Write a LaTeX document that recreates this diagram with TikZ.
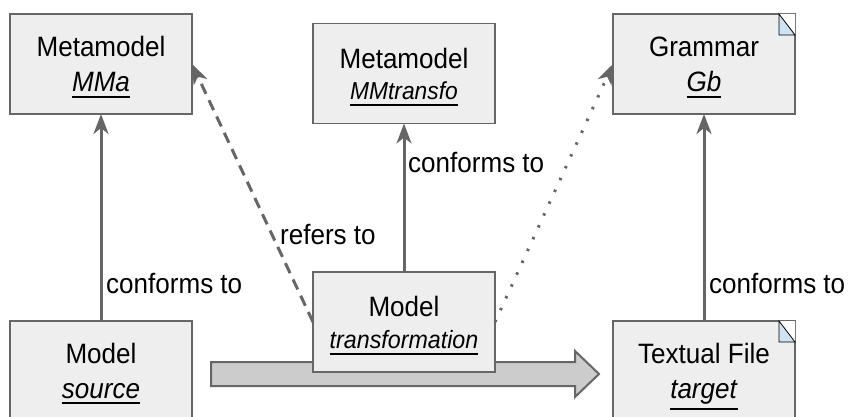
\documentclass[tikz,border=0pt]{standalone}
\usepackage{fontspec}
\setmainfont[FakeStretch=0.93]{Liberation Sans}
\usetikzlibrary{arrows.meta}
\definecolor{linegray}{HTML}{666666}
\definecolor{boxfill}{HTML}{EEEEEE}
\definecolor{arrowfill}{HTML}{CCCCCC}
\definecolor{notefill}{HTML}{CFE2F3}
\newcommand\myul[1]{\setbox0=\hbox{#1}\leavevmode\rlap{\rule[\dimexpr-\dp0-5.9pt\relax]{\wd0}{1.8pt}}\box0}
\begin{document}
\begin{tikzpicture}[x=1pt,y=-1pt,
  box/.style={draw=linegray, line width=1.2pt, fill=boxfill, minimum width=182pt, minimum height=100pt, inner sep=0pt, outer sep=0pt},
  txt/.style={anchor=base, inner sep=0pt, font=\fontsize{28}{32}\selectfont},
  lbl/.style={anchor=base west, inner sep=0pt, font=\fontsize{28}{32}\selectfont},
  tip/.style={-{Stealth[length=20pt,width=15pt,inset=6pt]}},
  conf/.style={draw=linegray, line width=3pt, tip},
  refer/.style={draw=linegray, line width=3pt, dash pattern=on 11pt off 7pt, tip},
  dots/.style={draw=linegray, line width=3pt, dash pattern=on 2.5pt off 10.5pt, tip},
  bigarrow/.style={draw=linegray, line width=2pt, fill=arrowfill, line join=miter},
  notecorner/.style={draw=black, line width=0.8pt, fill=notefill}
]
\clip (0,0) rectangle (851,417);
\fill[white] (0,0) rectangle (851,417);

% big transformation arrow
\draw[bigarrow] (211,362) -- (575,362) -- (575,351) -- (599,374) -- (575,397) -- (575,386) -- (211,386) -- cycle;

% boxes
\node[box] (MMa) at (101,64) {};
\node[box] (MMt) at (404,73.5) {};
\node[box] (Gb) at (704,64) {};
\node[box] (src) at (101,371) {};
\node[box] (trf) at (404,322) {};
\node[box] (tgt) at (704,371) {};

% note corners
\fill[white] (779,14) -- (795,14) -- (795,35) -- cycle;
\draw[notecorner] (779,14) -- (779,35) -- (795,35) -- cycle;
\fill[white] (779,321) -- (795,321) -- (795,342) -- cycle;
\draw[notecorner] (779,321) -- (779,342) -- (795,342) -- cycle;

% texts
\node[txt] (MMa1) at (101,57) {Metamodel};
\node[txt] (MMa2) at (101,92) {\myul{\textit{MMa}}};
\node[txt] (MMt1) at (404,68.5) {Metamodel};
\node[txt, font=\fontsize{24.5}{28}\selectfont] (MMt2) at (404,100) {\myul{\textit{MMtransfo}}};
\node[txt] (Gb1) at (704,57) {Grammar};
\node[txt] (Gb2) at (704,92) {\myul{\textit{Gb}}};
\node[txt] (src1) at (101,363.5) {Model};
\node[txt] (src2) at (101,398) {\myul{\textit{source}}};
\node[txt] (trf1) at (404,316.5) {Model};
\node[txt, font=\fontsize{25}{29}\selectfont] (trf2) at (404,348.5) {\myul{\textit{transformation}}};
\node[txt] (tgt1) at (704,363.5) {Textual File};
\node[txt] (tgt2) at (704,398) {\myul{\textit{target}}};

% connectors
\draw[conf] (src.north) -- (MMa.south);
\draw[conf] (trf.north) -- (MMt.south);
\draw[conf] (tgt.north) -- (Gb.south);
\draw[refer] (trf.west) -- (MMa.east);
\draw[dots] (trf.east) -- (Gb.west);

% labels
\node[lbl] (c1) at (106,293) {conforms to};
\node[lbl] (c2) at (408,172) {conforms to};
\node[lbl] (c3) at (709,293) {conforms to};
\node[lbl] (r1) at (280,244) {refers to};
\end{tikzpicture}
\end{document}
